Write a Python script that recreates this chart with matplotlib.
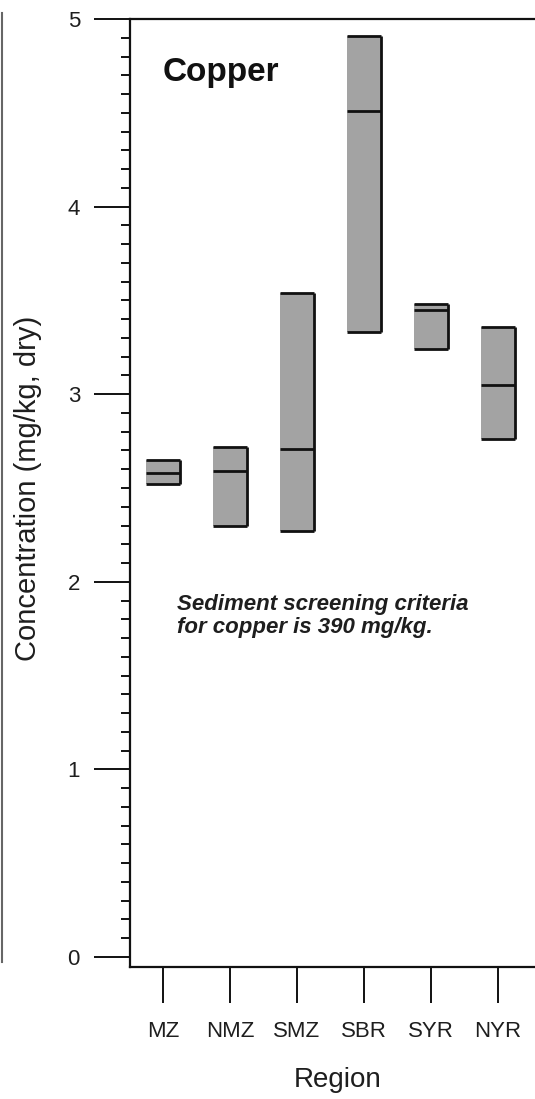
import matplotlib.pyplot as plt
from matplotlib.lines import Line2D
from matplotlib.ticker import MultipleLocator
import numpy as np

plt.rcParams['font.family'] = ['Liberation Sans', 'DejaVu Sans']

regions = ['MZ', 'NMZ', 'SMZ', 'SBR', 'SYR', 'NYR']
box_low = [2.52, 2.30, 2.27, 3.33, 3.24, 2.76]
box_mid = [2.58, 2.59, 2.71, 4.51, 3.45, 3.05]
box_high = [2.65, 2.72, 3.54, 4.91, 3.48, 3.36]

W, H = 535, 1099
fig = plt.figure(figsize=(W / 100, H / 100), dpi=100)
# axes box: left spine at x=130, top at y=19, bottom spine at y=967
ax = fig.add_axes([130 / W, 1 - 967 / H, (545 - 130) / W, (967 - 19) / H])

x = np.arange(1, len(regions) + 1)
width = 0.52
lo = np.array(box_low)
mid = np.array(box_mid)
hi = np.array(box_high)

ax.bar(x, hi - lo, bottom=lo, width=width, color='#a3a3a3', edgecolor='none', zorder=2)
ax.hlines(lo, x - width / 2, x + width / 2, color='#111111', lw=2, zorder=3)
ax.hlines(hi, x - width / 2, x + width / 2, color='#111111', lw=2, zorder=3)
ax.hlines(mid, x - width / 2, x + width / 2, color='#111111', lw=2, zorder=3)
ax.vlines(x + width / 2, lo, hi, color='#111111', lw=2, zorder=3)

ax.set_xlim(0.507, 0.507 + 415 / 67)
ax.set_ylim(-10 / 187.6, 5)

ax.set_xticks(x)
ax.set_xticklabels(regions)
ax.set_yticks(range(6))
ax.yaxis.set_minor_locator(MultipleLocator(0.1))

for s in ['left', 'top', 'bottom']:
    ax.spines[s].set_linewidth(1.6)
    ax.spines[s].set_color('#111111')
ax.spines['right'].set_visible(False)

ax.tick_params(axis='y', which='major', length=26, width=1.4, pad=10,
               labelsize=16, colors='#111111', labelcolor='#1e1e1e')
ax.tick_params(axis='y', which='minor', length=6.5, width=1.4, colors='#111111')
ax.tick_params(axis='x', which='major', length=26, width=1.4, pad=13,
               labelsize=16, colors='#111111', labelcolor='#1e1e1e')

ax.set_xlabel('Region', fontsize=20, color='#1e1e1e', labelpad=18)
ax.set_ylabel('Concentration (mg/kg, dry)', fontsize=21, color='#1e1e1e')
ax.yaxis.set_label_coords(42 / W, 1 - 488 / H, transform=fig.transFigure)

ax.text(163 / W, 1 - 72 / H, 'Copper', transform=fig.transFigure,
        fontsize=24, fontweight='bold', color='#111111', va='center')
ax.text(177 / W, 1 - 616 / H, 'Sediment screening criteria\nfor copper is 390 mg/kg.',
        transform=fig.transFigure, fontsize=16, fontweight='bold', style='italic',
        color='#1e1e1e', va='center', linespacing=1.1)

# edge of the neighbouring panel
fig.add_artist(Line2D([2 / W, 2 / W], [1 - 13 / H, 1 - 962 / H],
                      transform=fig.transFigure, color='#666666', lw=1.5))

fig.savefig('out.png', dpi=100)
